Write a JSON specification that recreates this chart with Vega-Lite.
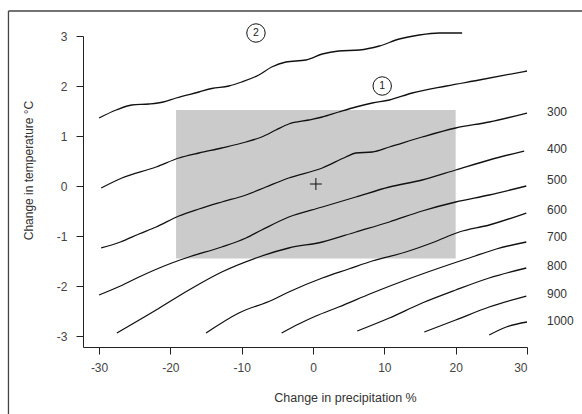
{
  "$schema": "https://vega.github.io/schema/vega-lite/v6.json",
  "width": 444,
  "height": 311,
  "autosize": "none",
  "padding": {"left": 83, "top": 36, "right": 55, "bottom": 67},
  "background": "white",
  "config": {
    "view": {"stroke": null},
    "font": "Liberation Sans",
    "axis": {
      "grid": false,
      "domainColor": "#222",
      "tickColor": "#222",
      "tickSize": 7,
      "labelFont": "Liberation Sans",
      "labelFontSize": 12,
      "labelColor": "#444",
      "titleFont": "Liberation Sans",
      "titleFontSize": 12.5,
      "titleFontWeight": "normal",
      "titleColor": "#333"
    }
  },
  "datasets": {
    "lines": [
      {"s": "L2", "x": -30, "y": 1.36}, {"s": "L2", "x": -27.6, "y": 1.52}, {"s": "L2", "x": -25.4, "y": 1.62}, {"s": "L2", "x": -23, "y": 1.64}, {"s": "L2", "x": -21, "y": 1.68}, {"s": "L2", "x": -19.2, "y": 1.76}, {"s": "L2", "x": -16, "y": 1.88}, {"s": "L2", "x": -14.2, "y": 1.95}, {"s": "L2", "x": -11.8, "y": 2.0}, {"s": "L2", "x": -10, "y": 2.08}, {"s": "L2", "x": -7.6, "y": 2.22}, {"s": "L2", "x": -5.8, "y": 2.38}, {"s": "L2", "x": -3.8, "y": 2.48}, {"s": "L2", "x": -1, "y": 2.52}, {"s": "L2", "x": 1.3, "y": 2.64}, {"s": "L2", "x": 3.6, "y": 2.7}, {"s": "L2", "x": 6.5, "y": 2.72}, {"s": "L2", "x": 9.3, "y": 2.8}, {"s": "L2", "x": 12.1, "y": 2.94}, {"s": "L2", "x": 14.9, "y": 3.02}, {"s": "L2", "x": 17.7, "y": 3.06}, {"s": "L2", "x": 20.9, "y": 3.06},
      {"s": "L1", "x": -29.7, "y": -0.04}, {"s": "L1", "x": -26.8, "y": 0.16}, {"s": "L1", "x": -22, "y": 0.38}, {"s": "L1", "x": -18.8, "y": 0.56}, {"s": "L1", "x": -16, "y": 0.66}, {"s": "L1", "x": -12.8, "y": 0.76}, {"s": "L1", "x": -9.4, "y": 0.88}, {"s": "L1", "x": -7.2, "y": 0.98}, {"s": "L1", "x": -5.2, "y": 1.12}, {"s": "L1", "x": -3.4, "y": 1.24}, {"s": "L1", "x": -0.6, "y": 1.32}, {"s": "L1", "x": 1.3, "y": 1.38}, {"s": "L1", "x": 3.6, "y": 1.48}, {"s": "L1", "x": 6, "y": 1.58}, {"s": "L1", "x": 8.3, "y": 1.66}, {"s": "L1", "x": 10.7, "y": 1.72}, {"s": "L1", "x": 13.9, "y": 1.86}, {"s": "L1", "x": 18.7, "y": 2.0}, {"s": "L1", "x": 23.3, "y": 2.12}, {"s": "L1", "x": 30, "y": 2.3},
      {"s": "300", "x": -29.7, "y": -1.24}, {"s": "300", "x": -27, "y": -1.12}, {"s": "300", "x": -24.4, "y": -0.96}, {"s": "300", "x": -22, "y": -0.82}, {"s": "300", "x": -18.8, "y": -0.6}, {"s": "300", "x": -16, "y": -0.46}, {"s": "300", "x": -12.8, "y": -0.32}, {"s": "300", "x": -9.4, "y": -0.18}, {"s": "300", "x": -6.6, "y": -0.02}, {"s": "300", "x": -3.4, "y": 0.16}, {"s": "300", "x": 1.3, "y": 0.36}, {"s": "300", "x": 4.6, "y": 0.58}, {"s": "300", "x": 6, "y": 0.66}, {"s": "300", "x": 8.3, "y": 0.68}, {"s": "300", "x": 10.7, "y": 0.78}, {"s": "300", "x": 15.3, "y": 0.98}, {"s": "300", "x": 20, "y": 1.16}, {"s": "300", "x": 24.7, "y": 1.28}, {"s": "300", "x": 30, "y": 1.46},
      {"s": "400", "x": -30, "y": -2.18}, {"s": "400", "x": -27, "y": -2.0}, {"s": "400", "x": -24.4, "y": -1.82}, {"s": "400", "x": -19.8, "y": -1.54}, {"s": "400", "x": -17.4, "y": -1.42}, {"s": "400", "x": -12.8, "y": -1.22}, {"s": "400", "x": -9.4, "y": -1.04}, {"s": "400", "x": -7.2, "y": -0.88}, {"s": "400", "x": -3.4, "y": -0.62}, {"s": "400", "x": 1.3, "y": -0.42}, {"s": "400", "x": 6, "y": -0.22}, {"s": "400", "x": 10.7, "y": -0.02}, {"s": "400", "x": 15.3, "y": 0.12}, {"s": "400", "x": 20, "y": 0.32}, {"s": "400", "x": 24.7, "y": 0.52}, {"s": "400", "x": 29.6, "y": 0.7},
      {"s": "500", "x": -27.5, "y": -2.94}, {"s": "500", "x": -22, "y": -2.48}, {"s": "500", "x": -17.4, "y": -2.08}, {"s": "500", "x": -12.8, "y": -1.72}, {"s": "500", "x": -8, "y": -1.44}, {"s": "500", "x": -3.4, "y": -1.24}, {"s": "500", "x": 1.3, "y": -1.12}, {"s": "500", "x": 6, "y": -0.92}, {"s": "500", "x": 10.7, "y": -0.72}, {"s": "500", "x": 15.3, "y": -0.5}, {"s": "500", "x": 20, "y": -0.32}, {"s": "500", "x": 24.7, "y": -0.18}, {"s": "500", "x": 29.9, "y": 0.0},
      {"s": "600", "x": -15, "y": -2.94}, {"s": "600", "x": -10.4, "y": -2.54}, {"s": "600", "x": -5.7, "y": -2.28}, {"s": "600", "x": -3.4, "y": -2.12}, {"s": "600", "x": 1.3, "y": -1.84}, {"s": "600", "x": 5, "y": -1.66}, {"s": "600", "x": 8.3, "y": -1.5}, {"s": "600", "x": 13, "y": -1.32}, {"s": "600", "x": 17, "y": -1.12}, {"s": "600", "x": 20.5, "y": -0.92}, {"s": "600", "x": 24.7, "y": -0.78}, {"s": "600", "x": 29.9, "y": -0.54},
      {"s": "700", "x": -4.4, "y": -2.94}, {"s": "700", "x": -2, "y": -2.76}, {"s": "700", "x": 0.4, "y": -2.6}, {"s": "700", "x": 3.6, "y": -2.42}, {"s": "700", "x": 8.3, "y": -2.14}, {"s": "700", "x": 13, "y": -1.88}, {"s": "700", "x": 17.7, "y": -1.64}, {"s": "700", "x": 22.3, "y": -1.42}, {"s": "700", "x": 25.7, "y": -1.26}, {"s": "700", "x": 29.9, "y": -1.12},
      {"s": "800", "x": 6.2, "y": -2.9}, {"s": "800", "x": 10.7, "y": -2.64}, {"s": "800", "x": 15.3, "y": -2.34}, {"s": "800", "x": 20, "y": -2.08}, {"s": "800", "x": 24.7, "y": -1.84}, {"s": "800", "x": 29.9, "y": -1.64},
      {"s": "900", "x": 15.6, "y": -2.92}, {"s": "900", "x": 20, "y": -2.68}, {"s": "900", "x": 24.7, "y": -2.42}, {"s": "900", "x": 29.9, "y": -2.2},
      {"s": "1000", "x": 24.7, "y": -2.98}, {"s": "1000", "x": 27.1, "y": -2.82}, {"s": "1000", "x": 30, "y": -2.72}
    ],
    "labels": [
      {"t": "300", "x": 32.8, "y": 1.49},
      {"t": "400", "x": 32.8, "y": 0.75},
      {"t": "500", "x": 32.8, "y": 0.12},
      {"t": "600", "x": 32.8, "y": -0.48},
      {"t": "700", "x": 32.8, "y": -1.02},
      {"t": "800", "x": 32.8, "y": -1.6},
      {"t": "900", "x": 32.8, "y": -2.16},
      {"t": "1000", "x": 32.8, "y": -2.7}
    ],
    "circles": [
      {"t": "2", "x": -8.0, "y": 3.06},
      {"t": "1", "x": 9.7, "y": 2.0}
    ]
  },
  "layer": [
    {
      "data": {"values": [{"x1": -19.2, "x2": 20, "y1": -1.45, "y2": 1.52}]},
      "mark": {"type": "rect", "color": "#cbcbcb", "clip": false},
      "encoding": {
        "x": {
          "field": "x1", "type": "quantitative",
          "scale": {"domain": [-32.25, 30], "nice": false, "zero": false},
          "axis": {"values": [-30, -20, -10, 0, 10, 20, 30], "labelExpr": "'' + datum.value", "labelPadding": 8, "title": "Change in precipitation %", "titleX": 262, "titleY": 50, "titleAlign": "center", "titleBaseline": "middle"}
        },
        "x2": {"field": "x2"},
        "y": {
          "field": "y1", "type": "quantitative",
          "scale": {"domain": [-3.22, 3], "nice": false, "zero": false},
          "axis": {"values": [-3, -2, -1, 0, 1, 2, 3], "labelExpr": "'' + datum.value", "labelPadding": 9, "title": "Change in temperature °C", "titleFontSize": 12, "titleX": -55, "titleY": 134, "titleAngle": -90, "titleAlign": "center", "titleBaseline": "middle"}
        },
        "y2": {"field": "y2"}
      }
    },
    {
      "data": {"name": "lines"},
      "mark": {"type": "line", "stroke": "#111", "strokeWidth": 1.3, "interpolate": "monotone", "clip": false},
      "encoding": {
        "detail": {"field": "s"},
        "x": {"field": "x", "type": "quantitative"},
        "y": {"field": "y", "type": "quantitative"}
      }
    },
    {
      "data": {"values": [{"x": 0.4, "y": 0.04}]},
      "mark": {"type": "point", "shape": "M-1,0L1,0M0,-1L0,1", "size": 144, "filled": false, "stroke": "#111", "strokeWidth": 1, "opacity": 1, "clip": false},
      "encoding": {
        "x": {"field": "x", "type": "quantitative"},
        "y": {"field": "y", "type": "quantitative"}
      }
    },
    {
      "data": {"name": "circles"},
      "mark": {"type": "point", "shape": "circle", "size": 340, "filled": false, "stroke": "#111", "strokeWidth": 1, "opacity": 1, "clip": false},
      "encoding": {
        "x": {"field": "x", "type": "quantitative"},
        "y": {"field": "y", "type": "quantitative"}
      }
    },
    {
      "data": {"name": "circles"},
      "mark": {"type": "text", "fontSize": 10.5, "fill": "#222", "font": "Liberation Sans", "baseline": "middle", "align": "center", "clip": false},
      "encoding": {
        "text": {"field": "t"},
        "x": {"field": "x", "type": "quantitative"},
        "y": {"field": "y", "type": "quantitative"}
      }
    },
    {
      "data": {"name": "labels"},
      "mark": {"type": "text", "fontSize": 12, "fill": "#333", "font": "Liberation Sans", "baseline": "middle", "align": "left", "clip": false},
      "encoding": {
        "text": {"field": "t"},
        "x": {"field": "x", "type": "quantitative"},
        "y": {"field": "y", "type": "quantitative"}
      }
    },
    {
      "data": {"values": [{"x": -42.7, "y": 3.5, "y2": -4.6}]},
      "mark": {"type": "rule", "stroke": "#444", "strokeWidth": 1.3, "clip": false},
      "encoding": {
        "x": {"field": "x", "type": "quantitative"},
        "y": {"field": "y", "type": "quantitative"},
        "y2": {"field": "y2"}
      }
    },
    {
      "data": {"values": [{"x": -42.7, "x2": 37.8, "y": 3.5}]},
      "mark": {"type": "rule", "stroke": "#444", "strokeWidth": 1.3, "clip": false},
      "encoding": {
        "x": {"field": "x", "type": "quantitative"},
        "x2": {"field": "x2"},
        "y": {"field": "y", "type": "quantitative"}
      }
    }
  ]
}
